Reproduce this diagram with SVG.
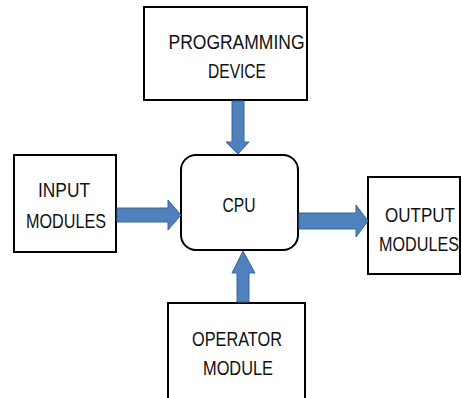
<svg xmlns="http://www.w3.org/2000/svg" width="462" height="398" viewBox="0 0 462 398">
<style>
.box{fill:#fff;stroke:#000;stroke-width:2}
.t{font-family:"Liberation Sans",Arial,sans-serif;font-size:21px;fill:#111;text-anchor:middle}
.arr{fill:#4f81bd;stroke:#3a679c;stroke-width:1}
</style>
<rect width="462" height="398" fill="#fff"/>
<g id="programming">
<rect class="box" x="144" y="7" width="163" height="93"/>
<text class="t" x="236.5" y="49" textLength="136" lengthAdjust="spacingAndGlyphs">PROGRAMMING</text>
<text class="t" x="237" y="78" textLength="58" lengthAdjust="spacingAndGlyphs">DEVICE</text>
</g>
<g id="cpu">
<rect class="box" x="181" y="155" width="117" height="95" rx="15"/>
<text class="t" x="239" y="212" textLength="33" lengthAdjust="spacingAndGlyphs">CPU</text>
</g>
<g id="input">
<rect class="box" x="14" y="155" width="102" height="97"/>
<text class="t" x="64" y="197" textLength="52" lengthAdjust="spacingAndGlyphs">INPUT</text>
<text class="t" x="66" y="228" textLength="80" lengthAdjust="spacingAndGlyphs">MODULES</text>
</g>
<g id="output">
<rect class="box" x="368" y="177" width="92" height="97"/>
<text class="t" transform="translate(420,222) scale(0.81,1)">OUTPUT</text>
<text class="t" transform="translate(419,251) scale(0.77,1)">MODULES</text>
</g>
<g id="operator">
<rect class="box" x="168" y="303" width="137" height="100"/>
<text class="t" x="237" y="346" textLength="90" lengthAdjust="spacingAndGlyphs">OPERATOR</text>
<text class="t" x="238" y="375" textLength="70" lengthAdjust="spacingAndGlyphs">MODULE</text>
</g>
<g id="connectors">
<path class="arr" d="M232,101 H244 V142 H249 L238,154 L226,142 H232 Z"/>
<path class="arr" d="M117,208 H168 V200 L181,215 L168,230 V222 H117 Z"/>
<path class="arr" d="M299,213 H356 V205 L368,221 L356,237 V229 H299 Z"/>
<path class="arr" d="M237,302 V273 H232 L243,251 L255,273 H249 V302 Z"/>
</g>
</svg>
